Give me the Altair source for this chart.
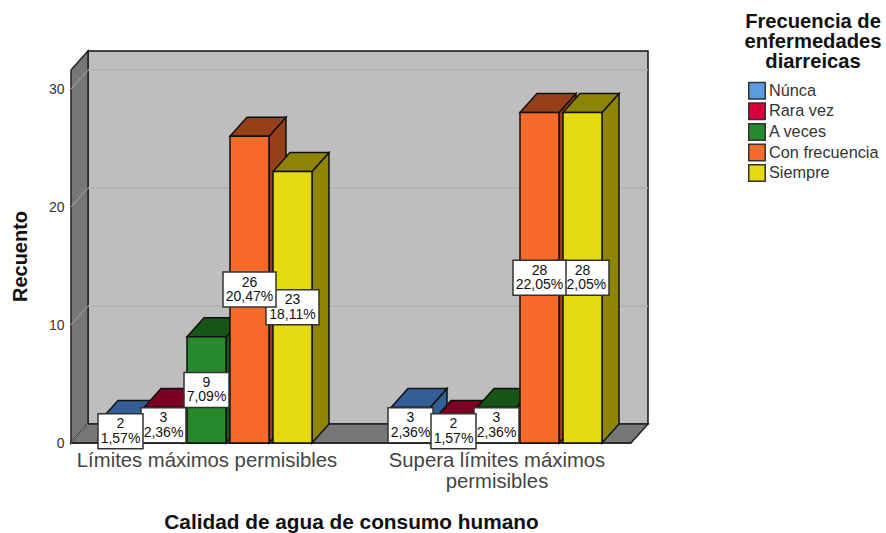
import altair as alt
import pandas as pd

# Survey counts by water-quality group and diarrhoea frequency
group_lines = [["Límites máximos permisibles"], ["Supera límites máximos", "permisibles"]]
categories = ["Núnca", "Rara vez", "A veces", "Con frecuencia", "Siempre"]
counts = [[2, 3, 9, 26, 23], [3, 2, 3, 28, 28]]
percents = [[1.57, 2.36, 7.09, 20.47, 18.11], [2.36, 1.57, 2.36, 22.05, 22.05]]
front_colors = ["#5b9be0", "#d6003a", "#26892c", "#f66a2a", "#e5d90f"]
dark_colors = ["#335f96", "#7c0024", "#175418", "#964019", "#8e8506"]
# Stacking order of the value boxes, bottom first
label_order = [[4, 3, 2, 1, 0], [4, 3, 2, 0, 1]]
y_ticks = [0, 10, 20, 30]

FONT = "Liberation Sans"
INK = "#111111"
PX_X, PX_Y = 43.0, 11.8        # pixels per x unit and per count
W, H = 577, 392
X_MAX, Y_MAX = W / PX_X, H / PX_Y
DX, DY = 17 / PX_X, 19 / PX_Y  # depth of the 3D box in scale units
BAR_W = 39 / PX_X
CENTERS = [135.5 / PX_X, 425.5 / PX_X]
FRONT_RIGHT = X_MAX - DX
TOP = Y_MAX - DY

xs = alt.Scale(domain=[0, X_MAX], nice=False, zero=False)
ys = alt.Scale(domain=[0, Y_MAX], nice=False, zero=False)

x_expr = "datum.value < {} ? {} : {}".format(
    (CENTERS[0] + CENTERS[1]) / 2,
    repr(group_lines[0]),
    repr(group_lines[1]),
)
# Every layer shares the same axis definitions so Vega-Lite merges them into one
X = alt.X("x:Q", scale=xs, title="Calidad de agua de consumo humano",
          axis=alt.Axis(values=CENTERS, labelExpr=x_expr, grid=False, domain=False, ticks=False,
                        tickSize=0, labelPadding=7, labelFontSize=20.3, labelFont=FONT, labelColor="#444444",
                        labelLineHeight=21, labelBaseline="top", labelLimit=0, labelFlush=False,
                        labelOverlap=False,
                        titleFont=FONT, titleFontSize=20.8, titleFontWeight="bold", titleColor="#111111",
                        titleX=280, titleY=79, titleBaseline="middle", titleAnchor="middle"))
Y = alt.Y("y:Q", scale=ys, title="Recuento",
          axis=alt.Axis(values=y_ticks, grid=False, domain=False, ticks=False, tickSize=0, labelPadding=7,
                        labelFontSize=14, labelFont=FONT, labelColor="#333333",
                        titleFont=FONT, titleFontSize=20, titleFontWeight="bold", titleColor="#111111",
                        titleX=-51, titleY=205, titleAngle=270, titleBaseline="middle",
                        titleAnchor="middle"))


def side_face(x, v0, v1, fill, stroke=INK, sw=1.5):
    """Parallelogram receding from the vertical edge at x."""
    df = pd.DataFrame({"x": [x, x + DX], "y": [v0, v0 + DY], "y2": [v1, v1 + DY]})
    return alt.Chart(df).mark_area(fill=fill, stroke=stroke, strokeWidth=sw, opacity=1).encode(
        x=X, y=Y, y2="y2:Q")


def flat_face(x0, x1, v, fill, stroke=INK, sw=1.5):
    """Parallelogram receding from the horizontal edge at height v."""
    df = pd.DataFrame({"y": [v, v + DY], "x": [x0, x0 + DX], "x2": [x1, x1 + DX]})
    return alt.Chart(df).mark_area(orient="horizontal", fill=fill, stroke=stroke, strokeWidth=sw, opacity=1).encode(
        y=Y, x=X, x2="x2:Q")


layers = []

# Back wall, left wall and floor
wall_df = pd.DataFrame({"x": [DX], "x2": [X_MAX], "y": [DY], "y2": [Y_MAX]})
layers.append(alt.Chart(wall_df).mark_rect(fill="#bebebe", stroke=INK, strokeWidth=1.5).encode(
    x=X, x2="x2:Q", y=Y, y2="y2:Q"))
layers.append(side_face(0, 0, TOP, "#777777", stroke="#222222"))
layers.append(flat_face(0, FRONT_RIGHT, 0, "#777777", stroke="#222222"))

# Gridlines across the back wall and down the left wall
grid_rows, wall_rows = [], []
for t in y_ticks[1:]:
    grid_rows.append({"x": DX, "x2": X_MAX, "y": t + DY})
for t in y_ticks:
    wall_rows += [{"x": 0, "y": t, "t": t}, {"x": DX, "y": t + DY, "t": t}]
layers.append(alt.Chart(pd.DataFrame(grid_rows)).mark_rule(stroke="#b0b0b0", strokeWidth=1.5).encode(
    x=X, x2="x2:Q", y=Y))
layers.append(alt.Chart(pd.DataFrame(wall_rows)).mark_line(stroke="#a8a8a8", strokeWidth=1).encode(
    x=X, y=Y, detail="t:N"))
edge_df = pd.DataFrame({"x": [0, FRONT_RIGHT], "y": [0, 0]})
layers.append(alt.Chart(edge_df).mark_line(stroke="#222222", strokeWidth=1.5).encode(x=X, y=Y))

# Bars, left to right so that each one overlaps the previous one's side
legend = alt.Legend(
    title=["Frecuencia de", "enfermedades", "diarreicas"], orient="none", legendX=674, legendY=-39,
    titleFont=FONT, titleFontSize=20.2, titleFontWeight="bold", titleColor="#111111", titleLineHeight=20,
    titleAlign="center", titleAnchor="middle", titlePadding=8.5, titleLimit=0,
    labelFont=FONT, labelFontSize=16.3, labelColor="#333333", labelLimit=0, labelOffset=3,
    symbolType="square", symbolSize=272, symbolStrokeColor="#333333", symbolStrokeWidth=1.5,
    clipHeight=20, rowPadding=0.6, symbolOpacity=1,
)
fill = alt.Fill("cat:N", scale=alt.Scale(domain=categories, range=front_colors), legend=legend)

for g, center in enumerate(CENTERS):
    for i, cat in enumerate(categories):
        v = counts[g][i]
        x0 = center + (i - 2) - BAR_W / 2
        x1 = x0 + BAR_W
        layers.append(side_face(x1, 0, v, dark_colors[i]))
        layers.append(flat_face(x0, x1, v, dark_colors[i]))
        bar_df = pd.DataFrame({"x": [x0], "x2": [x1], "y": [0], "y2": [v], "cat": [cat]})
        layers.append(alt.Chart(bar_df).mark_bar(stroke=INK, strokeWidth=1.5).encode(
            x=X, x2="x2:Q", y=Y, y2="y2:Q", fill=fill))

# Value boxes: count and share of the total on two lines
for g, center in enumerate(CENTERS):
    for i in label_order[g]:
        v = counts[g][i]
        text = "{}\n{}%".format(v, f"{percents[g][i]:.2f}".replace(".", ","))
        cx = center + (i - 2)
        half_w = (53 if percents[g][i] >= 10 else 45) / 2 / PX_X
        half_h = 17.5 / PX_Y
        box_df = pd.DataFrame({"x": [cx - half_w], "x2": [cx + half_w],
                               "y": [v / 2 - half_h], "y2": [v / 2 + half_h]})
        layers.append(alt.Chart(box_df).mark_rect(fill="white", stroke="#333333", strokeWidth=1.5, clip=False).encode(
            x=X, x2="x2:Q", y=Y, y2="y2:Q"))
        txt_df = pd.DataFrame({"x": [cx], "y": [v / 2], "t": [text]})
        layers.append(alt.Chart(txt_df).mark_text(
            font=FONT, fontSize=14, color="#111111", lineBreak="\n", lineHeight=14.5, align="center",
            baseline="middle", dy=-7).encode(x=X, y=Y, text="t:N"))

chart = (
    alt.layer(*layers)
    .properties(width=W, height=H, autosize="none", background="white",
                padding={"left": 71, "top": 51, "right": 238, "bottom": 90})
    .configure_view(strokeWidth=0)
)
chart.save("out.html", embed_options={"renderer": "svg", "actions": False})
